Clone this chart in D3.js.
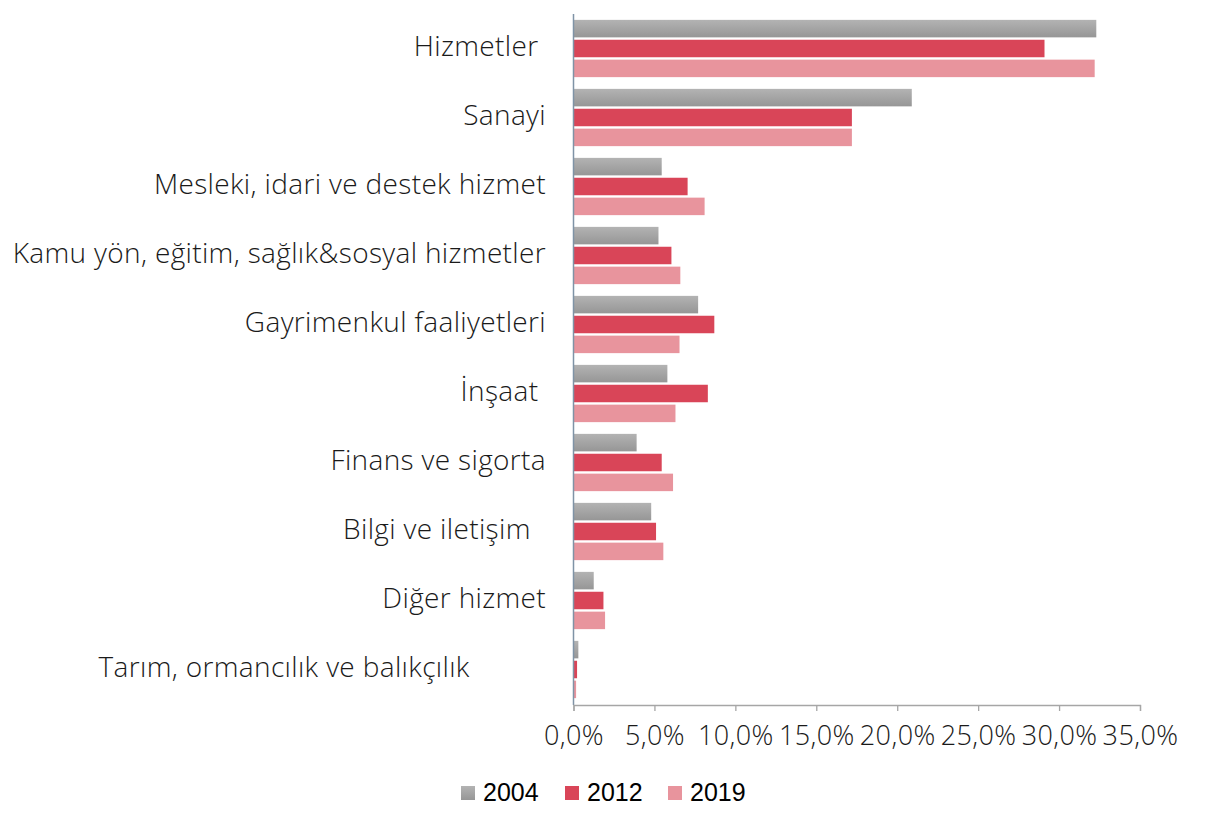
<!DOCTYPE html>
<html>
<head>
<meta charset="utf-8">
<script src="https://cdn.jsdelivr.net/npm/d3@7"></script>
<style>
  html, body { margin: 0; padding: 0; background: #fff; }
  svg { display: block; }
  .cat { white-space: pre; }
</style>
</head>
<body>
<div id="chart"></div>
<script>
// ---- data ----
const categories = [
  "Hizmetler ",
  "Sanayi",
  "Mesleki, idari ve destek hizmet",
  "Kamu yön, eğitim, sağlık&sosyal hizmetler",
  "Gayrimenkul faaliyetleri",
  "İnşaat ",
  "Finans ve sigorta",
  "Bilgi ve iletişim  ",
  "Diğer hizmet",
  "Tarım, ormancılık ve balıkçılık          "
];
const years = ["2004", "2012", "2019"];
const values2004 = [32.3, 20.9, 5.45, 5.25, 7.7, 5.8, 3.9, 4.8, 1.25, 0.3];
const values2012 = [29.1, 17.2, 7.05, 6.05, 8.7, 8.3, 5.45, 5.1, 1.85, 0.22];
const values2019 = [32.2, 17.2, 8.1, 6.6, 6.55, 6.3, 6.15, 5.55, 1.95, 0.16];
const xTicks = [0, 5, 10, 15, 20, 25, 30, 35];
const xTickLabels = ["0,0%", "5,0%", "10,0%", "15,0%", "20,0%", "25,0%", "30,0%", "35,0%"];

const seriesValues = { "2004": values2004, "2012": values2012, "2019": values2019 };
const colors = { "2004": "url(#grayGrad)", "2012": "#d94558", "2019": "#e8949d" };

// ---- layout ----
const W = 1222, H = 834;
const svg = d3.select("#chart").append("svg").attr("width", W).attr("height", H);

const defs = svg.append("defs");
const g1 = defs.append("linearGradient").attr("id", "grayGrad")
  .attr("x1", 0).attr("y1", 0).attr("x2", 0).attr("y2", 1);
g1.append("stop").attr("offset", "0%").attr("stop-color", "#b3b3b3");
g1.append("stop").attr("offset", "100%").attr("stop-color", "#969696");
const g2 = defs.append("linearGradient").attr("id", "grayGradL")
  .attr("x1", 0).attr("y1", 0).attr("x2", 0).attr("y2", 1);
g2.append("stop").attr("offset", "0%").attr("stop-color", "#b3b3b3");
g2.append("stop").attr("offset", "100%").attr("stop-color", "#969696");

const x = d3.scaleLinear().domain([0, 35]).range([573.5, 1140]);
const y = d3.scaleBand().domain(categories).range([14, 704])
  .paddingInner(0.17).paddingOuter(0.085);
const yInner = d3.scaleBand().domain(years).range([0, y.bandwidth()]).paddingInner(0.12);

const rows = categories.map((c, i) => ({
  cat: c,
  vals: years.map(yr => ({ year: yr, v: seriesValues[yr][i] }))
}));

const groups = svg.append("g").selectAll("g").data(rows).join("g")
  .attr("transform", d => `translate(0,${y(d.cat)})`);

groups.selectAll("rect").data(d => d.vals).join("rect")
  .attr("x", x(0))
  .attr("y", d => yInner(d.year))
  .attr("width", d => x(d.v) - x(0))
  .attr("height", yInner.bandwidth())
  .attr("fill", d => colors[d.year]);

// category labels
const labelFont = "'Open Sans', Lato, sans-serif";
svg.append("g").selectAll("text").data(categories).join("text")
  .attr("class", "cat")
  .attr("x", 546)
  .attr("y", d => y(d) + y.bandwidth() / 2)
  .attr("text-anchor", "end")
  .attr("dominant-baseline", "middle")
  .attr("font-family", labelFont)
  .attr("font-weight", 300)
  .attr("font-size", 28)
  .attr("letter-spacing", 0.35)
  .attr("fill", "#1a1a1a")
  .text(d => d);

// vertical axis line
svg.append("line")
  .attr("x1", x(0)).attr("x2", x(0))
  .attr("y1", 14).attr("y2", 705)
  .attr("stroke", "#7f93a6").attr("stroke-width", 1.5);

// x axis
const xAxis = d3.axisBottom(x).tickValues(xTicks)
  .tickFormat((d, i) => xTickLabels[i]).tickSize(6).tickPadding(15);
const ax = svg.append("g").attr("transform", "translate(0,705)").call(xAxis);
ax.select(".domain").attr("stroke", "#a6a6a6").attr("stroke-width", 1.3);
ax.selectAll(".tick line").attr("stroke", "#a6a6a6").attr("stroke-width", 1.3);
ax.selectAll(".tick text")
  .attr("font-family", labelFont)
  .attr("font-weight", 300)
  .attr("font-size", 27)
  .attr("letter-spacing", 0.4)
  .attr("fill", "#1a1a1a");

// legend
const legendX = [461, 565, 668];
const legend = svg.append("g").selectAll("g").data(years).join("g")
  .attr("transform", (d, i) => `translate(${legendX[i]},786)`);
legend.append("rect")
  .attr("width", 14).attr("height", 14)
  .attr("fill", d => d === "2004" ? "url(#grayGradL)" : colors[d]);
legend.append("text")
  .attr("x", 22).attr("y", 15)
  .attr("font-family", "'Liberation Sans', Arial, sans-serif")
  .attr("font-size", 25)
  .attr("fill", "#000")
  .text(d => d);
</script>
</body>
</html>
